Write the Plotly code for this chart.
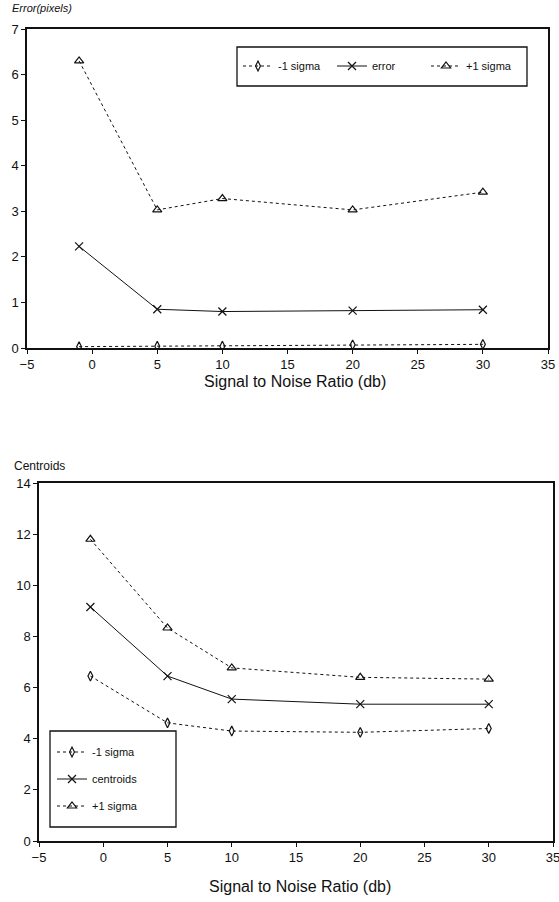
import plotly.graph_objects as go

# ---------- data ----------
snr = [-1, 5, 10, 20, 30]

err_minus = [0.03, 0.04, 0.04, 0.07, 0.08]
err_mean = [2.23, 0.85, 0.80, 0.82, 0.84]
err_plus = [6.30, 3.03, 3.28, 3.03, 3.42]

cen_minus = [6.45, 4.62, 4.30, 4.25, 4.40]
cen_mean = [9.15, 6.45, 5.55, 5.35, 5.35]
cen_plus = [11.80, 8.33, 6.77, 6.40, 6.33]

x_ticks = [-5, 0, 5, 10, 15, 20, 25, 30, 35]
top_y_ticks = [0, 1, 2, 3, 4, 5, 6, 7]
bot_y_ticks = [0, 2, 4, 6, 8, 10, 12, 14]

FONT = "Liberation Sans, Arial, sans-serif"
BLACK = "#111111"

fig = go.Figure()

def add(x, y, name, symbol, dash, xa, ya, legend, group, size=7):
    fig.add_trace(go.Scatter(
        x=x, y=y, name=name, mode="lines+markers",
        line=dict(color=BLACK, width=1, dash=dash),
        marker=dict(symbol=symbol, size=size, color=BLACK,
                    line=dict(color=BLACK, width=1.2)),
        xaxis=xa, yaxis=ya, legend=legend, legendgroup=group))

# top chart
add(snr, err_minus, "-1 sigma", "diamond-tall-open", "dot", "x", "y", "legend", "a", 7)
add(snr, err_mean, "error", "x-thin-open", "solid", "x", "y", "legend", "b", 8)
add(snr, err_plus, "+1 sigma", "triangle-up-open", "dot", "x", "y", "legend", "c", 8)
# bottom chart
add(snr, cen_minus, "-1 sigma", "diamond-tall-open", "dot", "x2", "y2", "legend2", "d", 7)
add(snr, cen_mean, "centroids", "x-thin-open", "solid", "x2", "y2", "legend2", "e", 8)
add(snr, cen_plus, "+1 sigma", "triangle-up-open", "dot", "x2", "y2", "legend2", "f", 8)

W, H = 559, 902
def px(v): return v / W
def py(v): return 1 - v / H

axis_common = dict(showgrid=False, zeroline=False, showline=True, mirror=True,
                   automargin=False, ticklabeloverflow="allow",
                   linecolor=BLACK, linewidth=1.5, ticks="outside", ticklen=4,
                   tickcolor=BLACK, tickfont=dict(family=FONT, size=13, color=BLACK))

fig.update_layout(
    width=W, height=H, margin=dict(l=0, r=0, t=0, b=0, autoexpand=False),
    paper_bgcolor="white", plot_bgcolor="white",
    font=dict(family=FONT, color=BLACK),
    xaxis=dict(domain=[px(27), px(548)], range=[-5, 35], tickvals=x_ticks,
               anchor="y", **axis_common),
    yaxis=dict(domain=[py(348), py(29)], range=[0, 7], tickvals=top_y_ticks,
               anchor="x", **axis_common),
    xaxis2=dict(domain=[px(39), px(553)], range=[-5, 35], tickvals=x_ticks,
                anchor="y2", **axis_common),
    yaxis2=dict(domain=[py(841), py(483)], range=[0, 14], tickvals=bot_y_ticks,
                anchor="x2", **axis_common),
    legend=dict(orientation="h", x=px(238), y=py(66), xanchor="left", yanchor="middle",
                borderwidth=0, bgcolor="rgba(0,0,0,0)",
                font=dict(family=FONT, size=11, color=BLACK),
                itemwidth=30, entrywidth=49, entrywidthmode="pixels", tracegroupgap=0),
    legend2=dict(orientation="v", x=px(52), y=py(779), xanchor="left", yanchor="middle",
                 borderwidth=0, bgcolor="rgba(0,0,0,0)",
                 font=dict(family=FONT, size=11, color=BLACK),
                 itemwidth=30, tracegroupgap=8),
    showlegend=True,
    shapes=[
        dict(type="rect", xref="paper", yref="paper", x0=px(237), x1=px(527),
             y0=py(86), y1=py(47), line=dict(color=BLACK, width=1.3), fillcolor="white",
             layer="below"),
        dict(type="rect", xref="paper", yref="paper", x0=px(50), x1=px(176),
             y0=py(827), y1=py(731), line=dict(color=BLACK, width=1.3), fillcolor="white",
             layer="below"),
    ],
    annotations=[
        dict(text="<i>Error(pixels)</i>", x=px(10), y=py(8), xref="paper", yref="paper",
             xanchor="left", yanchor="middle", showarrow=False,
             font=dict(family=FONT, size=11, color=BLACK)),
        dict(text="Centroids", x=px(12), y=py(466), xref="paper", yref="paper",
             xanchor="left", yanchor="middle", showarrow=False,
             font=dict(family=FONT, size=12, color=BLACK)),
        dict(text="Signal to Noise Ratio (db)", x=px(295), y=py(381), xref="paper",
             yref="paper", xanchor="center", yanchor="middle", showarrow=False,
             font=dict(family=FONT, size=16, color=BLACK)),
        dict(text="Signal to Noise Ratio (db)", x=px(300), y=py(886), xref="paper",
             yref="paper", xanchor="center", yanchor="middle", showarrow=False,
             font=dict(family=FONT, size=16, color=BLACK)),
    ],
)

fig.write_html("out.html")
